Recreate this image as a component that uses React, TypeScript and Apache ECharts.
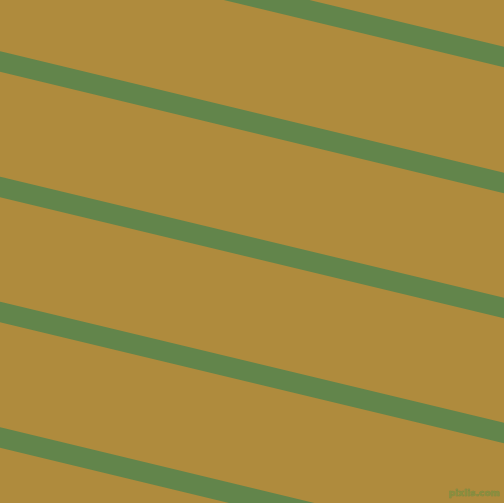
import React, { useEffect, useRef } from 'react';
import * as echarts from 'echarts';

// y of each stripe's centre line at the left (x = 0) and right (x = 504) edges
const stripeLeft = [-64, 61.5, 187, 312, 437.5, 563];
const stripeRight = [57, 183, 308, 433, 559, 684];
const edgeX = [0, 504];

const App: React.FC = () => {
  const chartRef = useRef<HTMLDivElement>(null);

  useEffect(() => {
    document.body.style.margin = '0';
    if (!chartRef.current) return;
    const chart = echarts.init(chartRef.current, undefined, { renderer: 'svg' });

    const series = stripeLeft.map((yl, i) => ({
      type: 'line',
      data: [
        [edgeX[0], yl],
        [edgeX[1], stripeRight[i]],
      ],
      symbol: 'none',
      clip: true,
      lineStyle: { color: '#62854b', width: 20, cap: 'square' },
      silent: true,
    }));

    chart.setOption({
      animation: false,
      backgroundColor: '#af8b3d',
      grid: { left: 0, right: 0, top: 0, bottom: 0 },
      xAxis: { type: 'value', min: 0, max: 504, show: false },
      yAxis: { type: 'value', min: 0, max: 503, inverse: true, show: false },
      series,
      graphic: [
        {
          type: 'text',
          right: 4,
          bottom: 5,
          style: {
            text: 'pixlis.com',
            font: 'bold 9px "DejaVu Sans", sans-serif',
            fill: '#8a8f3e',
            stroke: '#6f8744',
            lineWidth: 0.5,
          },
        },
      ],
    });

    return () => {
      chart.dispose();
    };
  }, []);

  return <div ref={chartRef} style={{ width: '504px', height: '503px' }} />;
};

export default App;
